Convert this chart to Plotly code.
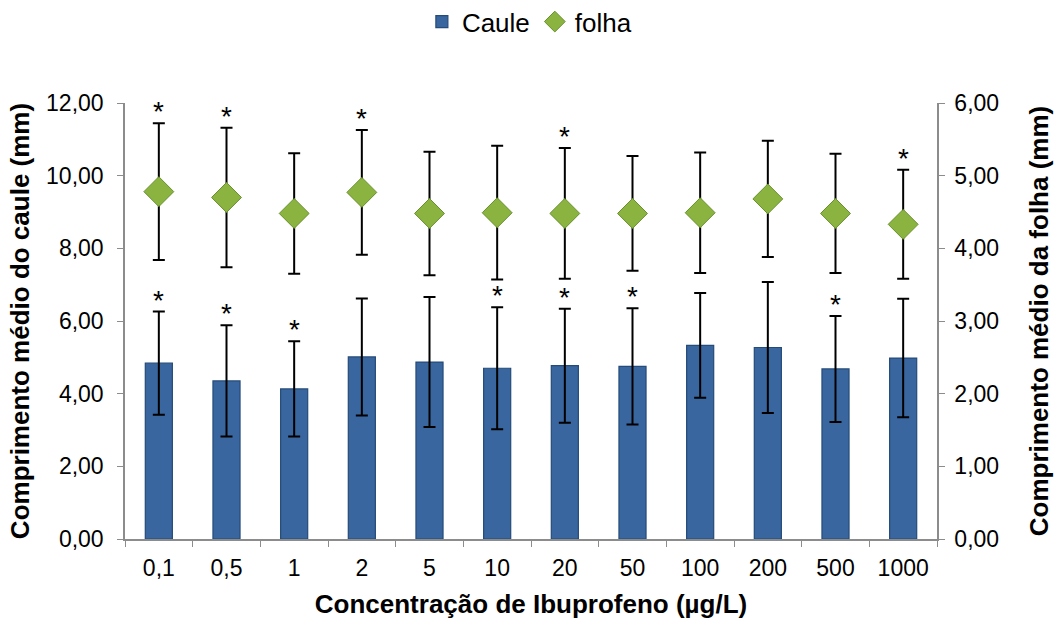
import plotly.graph_objects as go

# Ibuprofen concentrations (µg/L) used as categories
concentracoes = ["0,1", "0,5", "1", "2", "5", "10", "20", "50", "100", "200", "500", "1000"]

# Mean stem length (mm) and standard deviation — left axis
caule_media = [4.84, 4.35, 4.13, 5.01, 4.87, 4.70, 4.77, 4.75, 5.33, 5.27, 4.68, 4.98]
caule_dp = [1.42, 1.53, 1.31, 1.61, 1.79, 1.68, 1.57, 1.60, 1.44, 1.80, 1.46, 1.63]
caule_signif = [True, True, True, False, False, True, True, True, False, False, True, False]

# Mean leaf length (mm) and standard deviation — right axis
folha_media = [4.78, 4.70, 4.48, 4.77, 4.48, 4.49, 4.48, 4.48, 4.49, 4.68, 4.48, 4.33]
folha_dp = [0.94, 0.96, 0.83, 0.86, 0.85, 0.92, 0.90, 0.79, 0.83, 0.80, 0.82, 0.75]
folha_signif = [True, True, False, True, False, False, True, False, False, False, False, True]

# Axis ticks (values and comma-decimal labels)
ticks_caule = [0, 2, 4, 6, 8, 10, 12]
ticks_folha = [0, 1, 2, 3, 4, 5, 6]
rotulos_caule = [f"{v:.2f}".replace(".", ",") for v in ticks_caule]
rotulos_folha = [f"{v:.2f}".replace(".", ",") for v in ticks_folha]

# Category slots on the x axis (labels containing commas are shown via ticktext)
posicoes = list(range(len(concentracoes)))
limites = [p - 0.5 for p in posicoes] + [posicoes[-1] + 0.5]

FONT = "Liberation Sans, Arial, sans-serif"
AXIS_GREY = "#8c8c8c"

fig = go.Figure()

fig.add_trace(go.Bar(
    x=posicoes, y=caule_media, name="Caule", yaxis="y",
    width=0.4,
    marker=dict(color="#3A669F", line=dict(color="#244B79", width=1.2)),
    error_y=dict(type="data", array=caule_dp, visible=True,
                 color="black", thickness=2, width=6),
))

fig.add_trace(go.Scatter(
    x=posicoes, y=folha_media, name="folha", yaxis="y2",
    mode="markers",
    marker=dict(symbol="diamond", size=23, color="#8AB33F",
                line=dict(color="#67912B", width=1)),
    error_y=dict(type="data", array=folha_dp, visible=True,
                 color="black", thickness=2, width=6),
))

# Significance asterisks above the error bars
star_font = dict(family=FONT, size=28, color="black")
annotations = []
for p, m, s, sig in zip(posicoes, caule_media, caule_dp, caule_signif):
    if sig:
        annotations.append(dict(x=p, y=m + s, xref="x", yref="y", text="*",
                                showarrow=False, yanchor="bottom", yshift=-6,
                                font=star_font))
for p, m, s, sig in zip(posicoes, folha_media, folha_dp, folha_signif):
    if sig:
        annotations.append(dict(x=p, y=m + s, xref="x", yref="y2", text="*",
                                showarrow=False, yanchor="bottom", yshift=-6,
                                font=star_font))

tick_font = dict(family=FONT, size=23, color="black")
title_font = dict(family=FONT, size=26, color="black")

fig.update_layout(
    width=1064, height=619,
    margin=dict(l=125, r=127, t=103, b=80, autoexpand=False),
    paper_bgcolor="white", plot_bgcolor="white",
    font=dict(family=FONT, color="black"),
    showlegend=True,
    legend=dict(orientation="h", x=0.498, xanchor="center",
                yref="container", y=0.965, yanchor="middle",
                font=dict(family=FONT, size=26, color="black"),
                itemwidth=30, tracegroupgap=0, bgcolor="rgba(0,0,0,0)"),
    annotations=annotations,
    xaxis=dict(
        range=[limites[0], limites[-1]],
        tickvals=posicoes, ticktext=concentracoes, ticks="", tickangle=0,
        minor=dict(tickvals=limites, ticks="outside", ticklen=6, tickcolor=AXIS_GREY,
                   showgrid=False),
        showgrid=False, zeroline=False, showline=True, linecolor=AXIS_GREY, linewidth=1.5,
        tickfont=tick_font, ticklabelstandoff=8,
        title=dict(text="<b>Concentração de Ibuprofeno (µg/L)</b>", font=title_font, standoff=14),
        automargin=False,
    ),
    yaxis=dict(
        range=[0, 12], tickvals=ticks_caule, ticktext=rotulos_caule,
        showgrid=False, zeroline=False, showline=True, linecolor=AXIS_GREY, linewidth=1.5,
        ticks="outside", ticklen=6, tickcolor=AXIS_GREY,
        tickfont=tick_font, ticklabelstandoff=9,
        title=dict(text="<b>Comprimento médio do caule (mm)</b>", font=title_font, standoff=9),
        automargin=False,
    ),
    yaxis2=dict(
        range=[0, 6], tickvals=ticks_folha, ticktext=rotulos_folha,
        overlaying="y", side="right", anchor="x",
        showgrid=False, zeroline=False, showline=True, linecolor=AXIS_GREY, linewidth=1.5,
        ticks="outside", ticklen=6, tickcolor=AXIS_GREY,
        tickfont=tick_font, ticklabelstandoff=5,
        title=dict(text="<b>Comprimento médio da folha (mm)</b>", font=title_font, standoff=32),
        automargin=False,
    ),
)

fig.write_html("out.html")
